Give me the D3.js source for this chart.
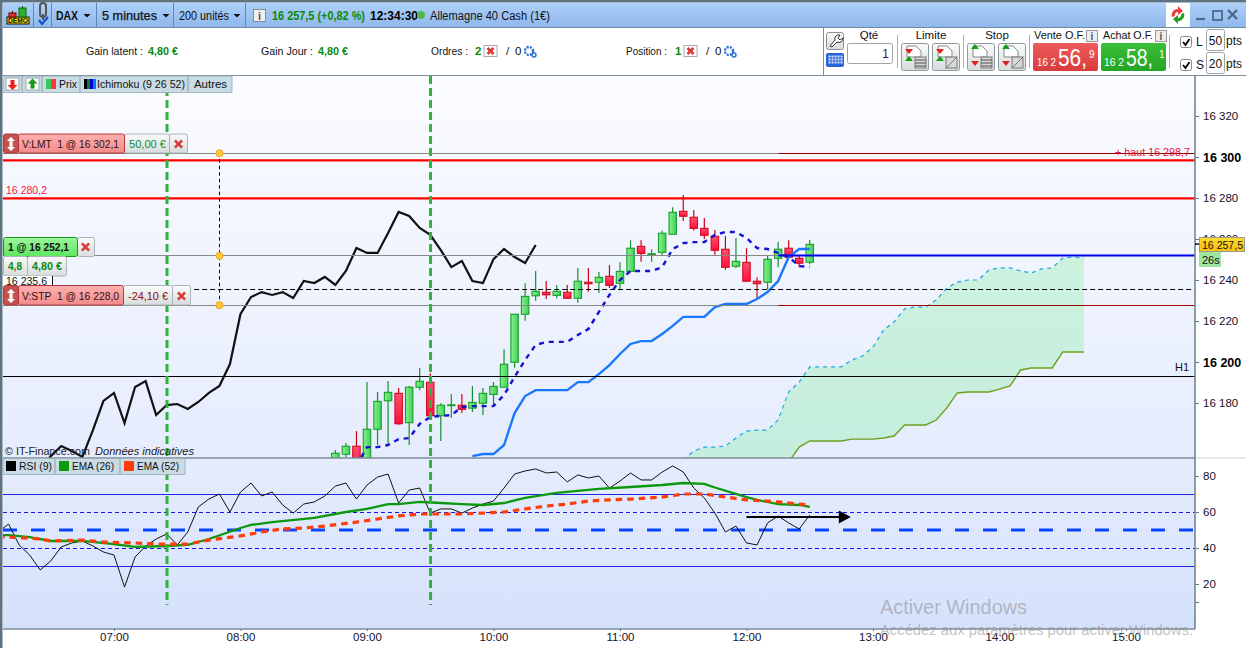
<!DOCTYPE html>
<html><head><meta charset="utf-8">
<script src="https://d3js.org/d3.v7.min.js"></script>
<style>html,body{margin:0;padding:0;background:#fff;overflow:hidden}svg{display:block}text{font-family:"Liberation Sans",Arial,sans-serif;white-space:pre}</style>
</head><body><div id="c"></div>
<script>
// ---------- data ----------
const candleStart="08:45";
const opens=[16152.7,16155,16158.9,16147.3,16167.2,16181.1,16184.7,16170.4,16187.7,16190.1,16173.8,16179,16178.9,16177.5,16179.9,16184.2,16187.7,16199.9,16223.3,16232.3,16234,16232.5,16234,16231.1,16238.9,16238.9,16241.8,16238.4,16244.2,16256.4,16252.6,16253.5,16262.3,16273.5,16270.6,16265.2,16261.3,16255,16246.7,16248.6,16239.4,16238.9,16250.6,16255.5,16250.6,16248.7];
const closes=[16155.5,16158.9,16147.3,16167.2,16180.8,16185.2,16169.9,16187.7,16190.6,16173.8,16178.9,16179.1,16176.9,16180.3,16184.7,16188.1,16198.9,16223.3,16232,16234.5,16232.8,16234.5,16231.1,16239.4,16238.2,16241.3,16237.4,16244.2,16255.5,16253,16252.8,16262.8,16273,16271.1,16265.2,16261.8,16254.5,16246.2,16249.1,16239.4,16238.2,16250.1,16255,16251.1,16248.2,16257.4];
const highs=[16157.1,16160.5,16166.3,16190.2,16185.4,16190.7,16187.3,16188.3,16197.1,16194.5,16179.9,16184.4,16184.4,16188.3,16187.3,16190.2,16206.2,16223.3,16238.4,16244.4,16239.5,16237.6,16237.6,16245.9,16245.9,16243.9,16247.3,16248.6,16259.4,16259.4,16255,16264.2,16275.5,16281.5,16274.1,16270.2,16264.4,16261.5,16260.5,16255.5,16241.3,16252,16258.5,16259.4,16251.7,16259.5];
const lows=[16151.2,16153.7,16144.9,16144.9,16159.5,16159.5,16169.3,16159.5,16186.3,16173.7,16161.5,16172.8,16175.1,16175.6,16174.1,16179,16187.7,16197.2,16220.1,16229.9,16230.7,16231.1,16231.1,16228.9,16234.3,16233.7,16236.1,16235,16244.2,16248.9,16248.9,16252,16262.3,16268.8,16264.2,16260,16252.3,16245,16245.7,16239.4,16231.1,16235.5,16246.2,16250.6,16246.2,16247.7];
const chikouStart="06:25";
const chikou=[16147.3,16154.1,16159,16156.6,16153.7,16166.8,16181,16184.9,16170.2,16187.8,16190.7,16174.1,16179,16179.5,16177.1,16180.5,16184.9,16188.3,16199,16223.4,16231.7,16234.1,16232.7,16234.1,16231.2,16239.5,16238.5,16241.5,16237.6,16244.4,16255.6,16253.2,16253.2,16262.9,16273.2,16271.2,16265.4,16262,16254.6,16246.3,16249.3,16239.5,16238.5,16250.2,16255.1,16251.2,16248.3,16257.1];
const tenkanStart="08:55";
const tenkan=[16149.3,16158.5,16158.5,16159.5,16162.4,16162.9,16169.8,16173.2,16173.7,16174.1,16178,16178.5,16178.5,16178.5,16183.9,16192.7,16201,16208.3,16209.8,16209.8,16209.8,16213.2,16216.1,16224.4,16232.7,16240,16244.4,16244.4,16244.4,16246.3,16255.1,16258,16258.5,16258.5,16262,16263.4,16263.4,16260.5,16255.6,16255.1,16253.2,16251.2,16246.8,16246.3];
const kijunStart="09:50";
const kijun=[16154.1,16155.1,16155.1,16159.5,16175.1,16183.4,16186.3,16186.3,16186.3,16186.3,16190.2,16190.2,16194.1,16198.5,16203.9,16208.8,16210.2,16210.2,16213.7,16217.6,16222,16222,16222,16226.8,16228.3,16228.3,16228.3,16230.7,16234.1,16239.5,16251.2,16255.1,16255.1];
const cloudStart="11:30";
const spanA=[16152.2,16156.6,16158.5,16158.5,16159,16162.9,16166.3,16166.8,16166.8,16171.7,16185.4,16190.2,16197.6,16197.6,16197.6,16197.6,16201,16202.9,16207.3,16215.6,16219.5,16225.9,16226.8,16226.8,16230.2,16236.1,16239,16240,16240,16244.9,16245.9,16245.9,16244.4,16243.4,16245.4,16245.9,16250.7,16251.2,16250.7];
const spanB=[16145,16145,16145,16145,16145,16145,16145,16145,16145,16145,16151.2,16158.5,16161.5,16161.5,16161.5,16161.5,16162.4,16162.4,16162.4,16162.9,16163.9,16169.3,16169.3,16169.3,16171.7,16177.6,16184.9,16185.4,16185.4,16185.4,16186.8,16188.3,16196.1,16197.1,16197.1,16197.1,16204.9,16204.9,16204.9];
const rsiStart="06:05";
const rsi=[48.9,53.3,41.7,36.1,27.8,32.8,40.6,42.8,43.9,41.1,37.8,36.1,18.3,35,41.1,45,47.8,41.7,48.9,62.8,67.2,70,60,71.1,76.1,68.9,71.1,63.9,59.4,64.4,65.6,68.9,74.4,76.1,67.2,75,79.4,81.1,65,72.2,73.3,59.4,61.7,61.7,59.4,62.2,64.4,66.1,73.3,81.1,82.8,83.9,81.7,82.2,76.7,80.6,78.9,80,73.3,77.2,81.7,77.8,77.8,82.2,85.6,82.2,73.3,67.8,59.4,48.9,52.2,42.8,41.7,53.9,57.8,53.9,50.6,58.3];
const ema26Times=["06:05","06:10","06:20","06:30","06:45","07:00","07:10","07:25","07:35","07:45","08:00","08:05","08:15","08:35","08:50","09:00","09:10","09:15","09:25","09:35","09:45","09:55","10:05","10:15","10:30","10:40","10:50","11:05","11:20","11:30","11:40","11:45","12:00","12:05","12:15","12:25","12:30"];
const ema26=[47.2,47.2,46.1,43.9,43.9,42.2,40.6,41.1,41.7,45,51.1,52.8,54.4,56.7,60,61.7,64.4,64.4,65.6,65,64.4,63.9,65,67.8,70.6,71.7,72.8,73.9,75,76.1,75.6,73.6,68.3,66.7,64.4,63.9,62.8];
const ema52Times=["06:05","06:10","06:25","06:30","06:45","06:55","07:10","07:20","07:35","07:45","08:00","08:10","08:20","08:30","08:40","08:55","09:05","09:15","09:25","09:35","09:45","09:55","10:05","10:15","10:25","10:35","10:45","10:55","11:05","11:20","11:30","11:40","11:50","12:00","12:10","12:15","12:25","12:30"];
const ema52=[46.1,46.1,45,43.9,44.4,43.3,42.8,42.2,42.2,44.4,46.7,48.9,50.6,51.1,52.2,54.4,56.1,57.8,58.9,58.9,58.9,59.4,60,61.7,63.3,64.4,66.1,66.7,67.2,68.3,70,70,68.3,66.7,66.1,65.6,64.4,63.9];
const priceTicks=[16320,16300,16280,16260,16240,16220,16200,16180];
const boldPrices=[16300,16200];
const rsiTicks=[80,60,40,20,10];
const timeTicks=["07:00","08:00","09:00","10:00","11:00","12:00","13:00","14:00","15:00"];
const verticalMarks=["07:25","09:30"];
const limitLevel=16302.1, highLevel=16298.7, redLevel=16280.2, positionLevel=16252.1, dashedLevel=16235.6, stopLevel=16228, h1Level=16193.2, lastPrice=16257.5;
const guideTime="07:50", colorSwitchTime="12:15", levelStartTime="07:38";
const arrowFrom="12:00", arrowTo="12:49", arrowRsi=57.2;

// ---------- scales ----------
const toMin=s=>{const[a,b]=s.split(":").map(Number);return a*60+b};
const fmtMin=m=>String(Math.floor(m/60)).padStart(2,"0")+":"+String(m%60).padStart(2,"0");
const seq=(start,n)=>d3.range(n).map(i=>toMin(start)+i*5);
const x=d3.scaleLinear().domain([420,900]).range([114,1126]);
const y=d3.scaleLinear().domain([16320,16180]).range([116,403]);
const yR=d3.scaleLinear().domain([80,20]).range([476,584]);
const PL=3,PR=1195,MT=76,MB=458,RB=629;

const svg=d3.select("#c").append("svg").attr("width",1246).attr("height",648);
const defs=svg.append("defs");
function grad(id,stops,horizontal){const g=defs.append("linearGradient").attr("id",id).attr("x1",0).attr("y1",0).attr("x2",horizontal?1:0).attr("y2",horizontal?0:1);
 stops.forEach((c,i)=>g.append("stop").attr("offset",i/(stops.length-1)).attr("stop-color",c));}
grad("gMain",["#fbfcff","#e5ecfd"]);grad("gRsi",["#e5ecfd","#d5e1fb"]);
grad("gBar",["#aed0fa","#8fb8ec"]);grad("gUp",["#8bf08b","#3fd05e"],true);grad("gRed",["#ff5070","#ff0f3c"]);
grad("gPink",["#ffb0b0","#f48a8a"]);grad("gGrn",["#9bf59b","#5fe65f"]);grad("gBtn",["#fafafa","#d8dcdc"]);
grad("gSell",["#ee5c5c","#d83c3c"]);grad("gBuy",["#38c038","#24a524"]);grad("gLast",["#ffdc30","#f7bf10"]);
defs.append("clipPath").attr("id","cpMain").append("rect").attr("x",PL).attr("y",MT).attr("width",PR-PL).attr("height",MB-MT);
defs.append("clipPath").attr("id","cpRsi").append("rect").attr("x",PL).attr("y",MB).attr("width",PR-PL).attr("height",RB-MB);

function R(g,a,b,w,h,fill,stroke,sw,rx){const r=g.append("rect").attr("x",a).attr("y",b).attr("width",w).attr("height",h).attr("fill",fill||"none");if(stroke)r.attr("stroke",stroke).attr("stroke-width",sw||1);if(rx)r.attr("rx",rx);return r}
function T(g,a,b,s,o){o=o||{};const t=g.append("text").attr("x",a).attr("y",b).text(s).attr("font-size",o.size||11).attr("fill",o.fill||"#111");if(o.bold)t.attr("font-weight","bold");if(o.italic)t.attr("font-style","italic");if(o.anchor)t.attr("text-anchor",o.anchor);if(o.len)t.attr("textLength",o.len).attr("lengthAdjust","spacingAndGlyphs");return t}
function L(g,a,b,c,d,col,w,dash){const l=g.append("line").attr("x1",a).attr("y1",b).attr("x2",c).attr("y2",d).attr("stroke",col).attr("stroke-width",w||1);if(dash)l.attr("stroke-dasharray",dash);return l}
function X(g,cx,cy,s){g.append("path").attr("d",`M${cx-s},${cy-s}L${cx+s},${cy+s}M${cx+s},${cy-s}L${cx-s},${cy+s}`).attr("stroke","#d83a3a").attr("stroke-width",2.6).attr("fill","none")}

// ---------- panes ----------
R(svg,PL,MT,PR-PL,MB-MT,"url(#gMain)");
R(svg,PL,MB,PR-PL,RB-MB,"url(#gRsi)");
const main=svg.append("g").attr("clip-path","url(#cpMain)");
const rp=svg.append("g").attr("clip-path","url(#cpRsi)");

// cloud
const cloudT=seq(cloudStart,spanA.length);
const cloud=cloudT.map((t,i)=>({t,a:spanA[i],b:spanB[i]}));
main.append("path").datum(cloud).attr("d",d3.area().x(d=>x(d.t)).y0(d=>y(d.b)).y1(d=>y(d.a))).attr("fill","rgb(150,240,175)").attr("fill-opacity",.4);
const pts=(ts,vs,sc)=>d3.line()(ts.map((t,i)=>[x(t),sc(vs[i])]));
main.append("path").attr("d",pts(cloudT,spanB,y)).attr("fill","none").attr("stroke","#6da01a").attr("stroke-width",1.4);
main.append("path").attr("d",pts(cloudT,spanA,y)).attr("fill","none").attr("stroke","#1aa6e0").attr("stroke-width",1.2).attr("stroke-dasharray","4 4");

// candles
const bars=seq(candleStart,opens.length).map((t,i)=>({t,o:opens[i],h:highs[i],l:lows[i],c:closes[i]}));
const cg=main.append("g").selectAll("g").data(bars).join("g");
cg.append("line").attr("x1",d=>x(d.t)).attr("x2",d=>x(d.t)).attr("y1",d=>y(d.h)).attr("y2",d=>y(d.l))
  .attr("stroke",d=>d.c>=d.o?"#169028":"#d00012").attr("stroke-width",1.2);
cg.append("rect").attr("x",d=>x(d.t)-3.7).attr("width",7.4)
  .attr("y",d=>y(Math.max(d.o,d.c))).attr("height",d=>Math.max(.8,Math.abs(y(d.o)-y(d.c))))
  .attr("fill",d=>d.c>=d.o?"url(#gUp)":"url(#gRed)").attr("stroke",d=>d.c>=d.o?"#14a028":"#d00a20").attr("stroke-width",1.1);

// ichimoku lines
main.append("path").attr("d",pts(seq(kijunStart,kijun.length),kijun,y)).attr("fill","none").attr("stroke","#1a78ff").attr("stroke-width",2.4);
main.append("path").attr("d",pts(seq(tenkanStart,tenkan.length),tenkan,y)).attr("fill","none").attr("stroke","#1414d0").attr("stroke-width",2.4).attr("stroke-dasharray","5 5");
main.append("path").attr("d",pts(seq(chikouStart,chikou.length),chikou,y)).attr("fill","none").attr("stroke","#111").attr("stroke-width",2.2);

// level lines
const sw=x(toMin(colorSwitchTime));
const crisp=p=>Math.round(y(p))+.5;
[[limitLevel,"#8c0000"],[stopLevel,"#a00000"]].forEach(([p,c])=>{L(main,PL,crisp(p),sw,crisp(p),"#888",1);L(main,sw,crisp(p),PR,crisp(p),c,1)});
L(main,PL,crisp(positionLevel),sw,crisp(positionLevel),"#888",1);L(main,sw,crisp(positionLevel),PR,crisp(positionLevel),"#0000f0",2.2);
L(main,PL,y(highLevel)+.7,PR,y(highLevel)+.7,"#ff0000",2.2);
L(main,PL,y(redLevel)+.7,PR,y(redLevel)+.7,"#ff0000",2.2);
L(main,PL,crisp(h1Level),PR,crisp(h1Level),"#000",1);
L(main,x(toMin(levelStartTime)),crisp(dashedLevel),PR,crisp(dashedLevel),"#000",1,"5 3");
const gx=Math.round(x(toMin(guideTime)))+.5;
L(main,gx,y(limitLevel),gx,y(stopLevel),"#000",1,"3.5 3");
[limitLevel,positionLevel,stopLevel].forEach(p=>main.append("circle").attr("cx",gx).attr("cy",y(p)+.6).attr("r",3.6).attr("fill","#ffc83c").attr("stroke","#e0a020").attr("stroke-width",.8));
T(main,1190,156,"+ haut 16 298,7",{anchor:"end",fill:"#ee1040",size:11,len:75});
T(main,1189,371,"H1",{anchor:"end",size:11});
T(main,6,194,"16 280,2",{fill:"#ff1040",size:11,len:41});

// rsi pane
[[70,"#2424e0",1,null],[30,"#2424e0",1,null],[60,"#1414f0",1,"4 3"],[40,"#1414f0",1,"4 3"],[50,"#0a46ff",3,"14 14"]].forEach(([v,c,w,da])=>L(rp,PL,Math.round(yR(v))+(v===50?0:.5),PR,Math.round(yR(v))+(v===50?0:.5),c,w,da));
rp.append("path").attr("d",pts(seq(rsiStart,rsi.length),rsi,yR)).attr("fill","none").attr("stroke","#111").attr("stroke-width",1);
rp.append("path").attr("d",pts(ema26Times.map(toMin),ema26,yR)).attr("fill","none").attr("stroke","#0c980c").attr("stroke-width",2.3);
rp.append("path").attr("d",pts(ema52Times.map(toMin),ema52,yR)).attr("fill","none").attr("stroke","#ff3c0a").attr("stroke-width",3.2).attr("stroke-dasharray","6.5 5");
const ax=x(toMin(arrowFrom)),bx=x(toMin(arrowTo))+1,ay=yR(arrowRsi);
L(svg,ax,ay,bx-10,ay,"#000",2);
svg.append("path").attr("d",`M${bx-12},${ay-6.5}L${bx},${ay}L${bx-12},${ay+6.5}Z`).attr("fill","#000");

// vertical dashed marks
verticalMarks.forEach(m=>L(svg,x(toMin(m))+.3,MT,x(toMin(m))+.3,605,"#2fb33a",3,"8 4"));

// left edge and pane separators
R(svg,0,0,2.5,648,"#5e7382");
L(svg,PL,MB,PR,MB,"#7b8d9b",1.5);
L(svg,PR,MB,1246,MB,"#c6d2da",1);L(svg,PL,RB,PR,RB,"#7b8d9b",1.5);
L(svg,PL,75.5,1246,75.5,"#7d8f9f",1.2);

// axes
const fmtPrice=p=>String(p).slice(0,2)+" "+String(p).slice(2);
const axP=svg.append("g").attr("transform",`translate(${PR},0)`).call(d3.axisRight(y).tickValues(priceTicks).tickSize(4).tickPadding(4).tickFormat(fmtPrice));
const axR=svg.append("g").attr("transform",`translate(${PR},0)`).call(d3.axisRight(yR).tickValues(rsiTicks).tickSize(4).tickPadding(4).tickFormat(d=>d===10?"":d));
const axT=svg.append("g").attr("transform",`translate(0,${RB})`).call(d3.axisBottom(x).tickValues(timeTicks.map(toMin)).tickSize(2).tickPadding(2).tickFormat(fmtMin));
[axP,axR,axT].forEach(a=>{a.selectAll("text").attr("font-size",11.5).attr("fill","#14102c").style("font-family",'"Liberation Sans",Arial,sans-serif');a.selectAll("line").attr("stroke","#61788a");a.select(".domain").remove()});
axP.selectAll("text").filter(d=>boldPrices.includes(d)).attr("font-weight","bold").attr("font-size",12.5).attr("fill","#000");
L(svg,PR,MT,PR,RB,"#6f8795",1.6);

// last price label
L(svg,PR,y(lastPrice),1199,y(lastPrice),"#000",1.4);
R(svg,1199.5,237.5,45,14,"url(#gLast)","#9a9a8a",1);
T(svg,1202,249,"16 257,5",{size:11.5,len:41});
R(svg,1199,252,22,15,"#9fe49f");
T(svg,1202,264,"26s",{size:11});

// order tags
function tag(yt,h,parts){parts.forEach(p=>{R(svg,p[0]+.5,yt+.5,p[1]-p[0],h,p[2],p[3],1,2)})}
function arrows(cx,cy){svg.append("path").attr("d",`M${cx},${cy-7}l4,4h-2.4v6h2.4l-4,4l-4,-4h2.4v-6h-2.4z`).attr("fill","#fff")}
// V:LMT
tag(133.5,19,[[124,169,"url(#gBtn)","#a9b4ba"],[169,187,"url(#gBtn)","#a9b4ba"],[18,124,"url(#gPink)","#b43a3a"],[3,18,"#c4504f","#b43a3a"]]);
arrows(11,144);T(svg,22,148,"V:LMT  1 @ 16 302,1",{size:11.5,fill:"#301010",len:97});T(svg,129,148,"50,00 €",{size:11.5,fill:"#0a8a3a",len:37});X(svg,178.5,144,3.6);
// position
tag(237,19,[[77,94,"url(#gBtn)","#a9b4ba"],[3,77,"url(#gGrn)","#1a9a1a"]]);
T(svg,8,251,"1 @ 16 252,1",{size:11.5,bold:true,len:61});X(svg,85.5,247,3.6);
tag(256,19.5,[[3,27,"url(#gBtn)","#a9b4ba"],[27,66,"url(#gBtn)","#a9b4ba"]]);
T(svg,8,270,"4,8",{size:11.5,bold:true,fill:"#0a8a0a",len:14});T(svg,32,270,"4,80 €",{size:11.5,bold:true,fill:"#0a8a0a",len:30});
// dashed level caption
R(svg,3,276,49,11,"#fff");L(svg,52.5,276,52.5,286,"#111",1);
T(svg,6,285,"16 235,6",{size:11,len:41});
// V:STP
tag(285,19.5,[[123,172,"url(#gBtn)","#a9b4ba"],[172,190,"url(#gBtn)","#a9b4ba"],[18,123,"url(#gPink)","#b43a3a"],[3,18,"#c4504f","#b43a3a"]]);
arrows(11,296);T(svg,22,300,"V:STP  1 @ 16 228,0",{size:11.5,fill:"#301010",len:97});T(svg,128,300,"-24,10 €",{size:11.5,fill:"#900a0a",len:40});X(svg,181.5,296,3.6);

// copyright
T(svg,5,455,"© IT-Finance.com",{size:11,fill:"#222",len:85});T(svg,95,455,"Données indicatives",{size:11,italic:true,fill:"#222",len:99});

// rsi legend
R(svg,3,458.5,182,16,"#c9dce5","#9aaab4",.8);
[55,120].forEach(v=>L(svg,v,459,v,474,"#8fa0aa",1));
R(svg,6,461,10,10,"#000");T(svg,19,470,"RSI (9)",{size:11.5,len:33});
R(svg,59,461,10,10,"#0a9a0a");T(svg,72,470,"EMA (26)",{size:11.5,len:42});
R(svg,124,461,10,10,"#ff3c0a");T(svg,137,470,"EMA (52)",{size:11.5,len:42});

// price legend
R(svg,3,76,229,16.5,"#c9dce5","#9aaab4",.8);
[22,42,80,188].forEach(v=>L(svg,v,76,v,92,"#8fa0aa",1));
R(svg,6,78,13,12,"#fff","#9aa");svg.append("path").attr("d","M12.5,90l-5,-5h3v-5h4v5h3z").attr("fill","#e22");
R(svg,26,78,13,12,"#fff","#9aa");svg.append("path").attr("d","M32.5,78.5l5,5h-3v5h-4v-5h-3z").attr("fill","#1a9a1a");
R(svg,46,79,5,10,"#33cc55");R(svg,51,79,5,10,"#ff3344");T(svg,59,88,"Prix",{size:11.5,len:18});
[[84,"#000"],[87,"#1a7a2a"],[90,"#0000e0"],[93,"#0a78ff"]].forEach(([a,c])=>R(svg,a,79,3,10,c));T(svg,97,88,"Ichimoku (9 26 52)",{size:11.5,len:88});
T(svg,194,88,"Autres",{size:11.5,len:33});

// top chrome
R(svg,0,0,1246,2.5,"#5d7282");
R(svg,3,3,1163,24,"url(#gBar)");R(svg,1190,3,56,24,"url(#gBar)");
L(svg,0,27.5,1246,27.5,"#6f8aa0",1.2);
[33,51,96,173,245].forEach(v=>L(svg,v+.5,3,v+.5,27,"#5f86b4",1));
// demo icon
R(svg,7,17,22,7,"#ffd800","#111",1);T(svg,8,23,"DEMO",{size:7,bold:true,fill:"#111",len:20});
R(svg,9,13,7,4,"#e03030","#600");L(svg,12.5,11,12.5,13,"#600",1);R(svg,19,8,7,9,"#30b030","#060");L(svg,22.5,6,22.5,8,"#060",1);
// link icon
svg.append("path").attr("d","M40,6a3,3 0 0 1 6,0v8a3,3 0 0 1 -6,0z M43,14v6").attr("fill","none").attr("stroke","#555").attr("stroke-width",2);
svg.append("path").attr("d","M39,20l3,4l6,-7").attr("fill","none").attr("stroke","#1a50c8").attr("stroke-width",2.2);
function caret(a,b){svg.append("path").attr("d",`M${a-3.5},${b}h7l-3.5,3.5z`).attr("fill","#111")}
T(svg,56,20,"DAX",{size:12.5,bold:true,len:22});caret(87,14);
T(svg,102,20,"5 minutes",{size:12.5,len:55}).attr("stroke","#111").attr("stroke-width",.25);caret(166,14);
T(svg,179,20,"200 unités",{size:12.5,len:50});caret(237,14);
R(svg,253.5,9.5,12,12,"#f0f0f0","#8a8a8a");T(svg,259.5,20,"i",{size:11,anchor:"middle",bold:true,fill:"#555"});
T(svg,272,20,"16 257,5 (+0,82 %)",{size:12,bold:true,fill:"#0a8a0a",len:93});
T(svg,370,20,"12:34:30",{size:12,bold:true,fill:"#000",len:48});
svg.append("circle").attr("cx",421).attr("cy",15).attr("r",4).attr("fill","#4cb84c");
T(svg,430,20,"Allemagne 40 Cash (1€)",{size:12,len:120});
// second row
T(svg,86,55,"Gain latent :",{size:11.5,len:57});T(svg,148,55,"4,80 €",{size:11.5,bold:true,fill:"#0a8a0a",len:30});
T(svg,261,55,"Gain Jour :",{size:11.5,len:52});T(svg,318,55,"4,80 €",{size:11.5,bold:true,fill:"#0a8a0a",len:30});
T(svg,431,55,"Ordres :",{size:11.5,len:37});T(svg,475,55,"2",{size:11.5,bold:true,fill:"#0a8a0a"});
T(svg,506,55,"/",{size:11.5});T(svg,515,55,"0",{size:11.5});
T(svg,626,55,"Position :",{size:11.5,len:41});T(svg,675,55,"1",{size:11.5,bold:true,fill:"#0a8a0a"});
T(svg,706,55,"/",{size:11.5});T(svg,715,55,"0",{size:11.5});
[484,684].forEach(a=>{R(svg,a,45.5,13,11,"#fff","#aaa");X(svg,a+6.5,51,3)});
[529,729].forEach(a=>{svg.append("circle").attr("cx",a).attr("cy",51).attr("r",4).attr("fill","none").attr("stroke","#2a6fd0").attr("stroke-width",2.4).attr("stroke-dasharray","2 1.2");svg.append("circle").attr("cx",a+5).attr("cy",55).attr("r",2).attr("fill","none").attr("stroke","#2a6fd0").attr("stroke-width",1.4)});
// right controls
L(svg,823.5,28,823.5,75,"#7d8f9f",1);
R(svg,826.5,32.5,17,17,"url(#gBtn)","#8a9096",1,2);
svg.append("path").attr("d","M830,46l5,-6a4,4 0 0 1 5,-5l-2,3l2,2l3,-2a4,4 0 0 1 -6,4l-5,5z").attr("fill","#fff").attr("stroke","#333");
R(svg,826,53,18,14,"#2a63d8",null,1,2);
d3.range(3).forEach(r=>d3.range(5).forEach(c=>R(svg,828.5+c*3,55.5+r*3,2,2,"#dfe8ff")));
T(svg,869,39,"Qté",{size:11.5,anchor:"middle"});R(svg,847.5,43.5,45,20,"#fff","#9aa4aa",1,2);T(svg,889,58,"1",{size:12,anchor:"end",fill:"#501050"});
[897,963,1029,1169].forEach(v=>L(svg,v+.5,35,v+.5,68,"#a8b0b6",1));
T(svg,931,39,"Limite",{size:11.5,anchor:"middle"});T(svg,997,39,"Stop",{size:11.5,anchor:"middle"});
function orderBtn(a,up,line){R(svg,a+.5,43.5,27,27,"url(#gBtn)","#8f9aa0",1,2);
 svg.append("path").attr("d",`M${a+6},46h9l5,5v6h-14z`).attr("fill","#fff").attr("stroke","#888");
 const t=up?"#e02020":"#12a012",b=up?"#12a012":"#e02020";
 svg.append("path").attr("d",`M${a+4},49l4,${up?5:-5}l4,${up?-5:5}z`).attr("fill",t);
 svg.append("path").attr("d",`M${a+4},61l4,${up?-5:5}l4,${up?5:-5}z`).attr("fill",b);
 R(svg,a+14,57,11,11,"#d8d8d8","#777");if(line)L(svg,a+14,68,a+25,57,"#777",1);else d3.range(3).forEach(i=>L(svg,a+14,60+i*3,a+25,60+i*3,"#666",1.2));}
orderBtn(901,true,false);orderBtn(932,true,true);orderBtn(967,false,false);orderBtn(998,false,true);
T(svg,1034,39,"Vente O.F.",{size:11.5,len:51});T(svg,1103,39,"Achat O.F.",{size:11.5,len:50});
[1086,1155].forEach(a=>{R(svg,a+.5,30.5,11,11,"#eee","#999");T(svg,a+6,40,"i",{size:10,anchor:"middle",bold:true,fill:"#555"})});
R(svg,1033,43,65,28,"url(#gSell)",null,1,2);R(svg,1101,43,65,28,"url(#gBuy)",null,1,2);
T(svg,1037,66,"16 2",{size:11,fill:"#fff",len:19});T(svg,1058,66,"56,",{size:24,fill:"#fff",len:29});T(svg,1089,58,"9",{size:10,fill:"#fff"});
T(svg,1104,66,"16 2",{size:11,fill:"#fff",len:20});T(svg,1126,66,"58,",{size:24,fill:"#fff",len:27});T(svg,1159,58,"1",{size:10,fill:"#fff"});
[36,59].forEach(v=>{R(svg,1180.5,v+.5,11,11,"#fff","#888",1,2);svg.append("path").attr("d",`M1183,${v+6}l2.5,3l4,-6`).attr("fill","none").attr("stroke","#000").attr("stroke-width",1.8)});
T(svg,1196,46,"L",{size:12});T(svg,1196,69,"S",{size:12});
[[29,"50"],[52,"20"]].forEach(([v,s])=>{R(svg,1206.5,v+.5,18,21,"#fff","#9aa4aa",1,2);T(svg,1215.5,v+16,s,{size:12,anchor:"middle"});T(svg,1226,v+16,"pts",{size:12,len:16})});
// window controls
R(svg,1166,3,24,24,"#fff");
svg.append("path").attr("d","M1172,17a6,6 0 0 1 6,-8l0,-3l5,5l-5,4l0,-3a3,3 0 0 0 -3,4z").attr("fill","#e84040");
svg.append("path").attr("d","M1184,13a6,6 0 0 1 -6,8l0,3l-5,-5l5,-4l0,3a3,3 0 0 0 3,-4z").attr("fill","#20a020");
L(svg,1196,19,1205,19,"#4d6b88",2.2);R(svg,1213,11,9,9,"none","#4d6b88",1.8);
svg.append("path").attr("d","M1228,10l9,9M1237,10l-9,9").attr("stroke","#4d6b88").attr("stroke-width",2.4).attr("fill","none");

// activation watermark
T(svg,880,614,"Activer Windows",{size:20,fill:"rgba(140,140,140,.55)",len:147});
T(svg,880,635,"Accédez aux paramètres pour activer Windows.",{size:14,fill:"rgba(140,140,140,.55)",len:313});
</script></body></html>
